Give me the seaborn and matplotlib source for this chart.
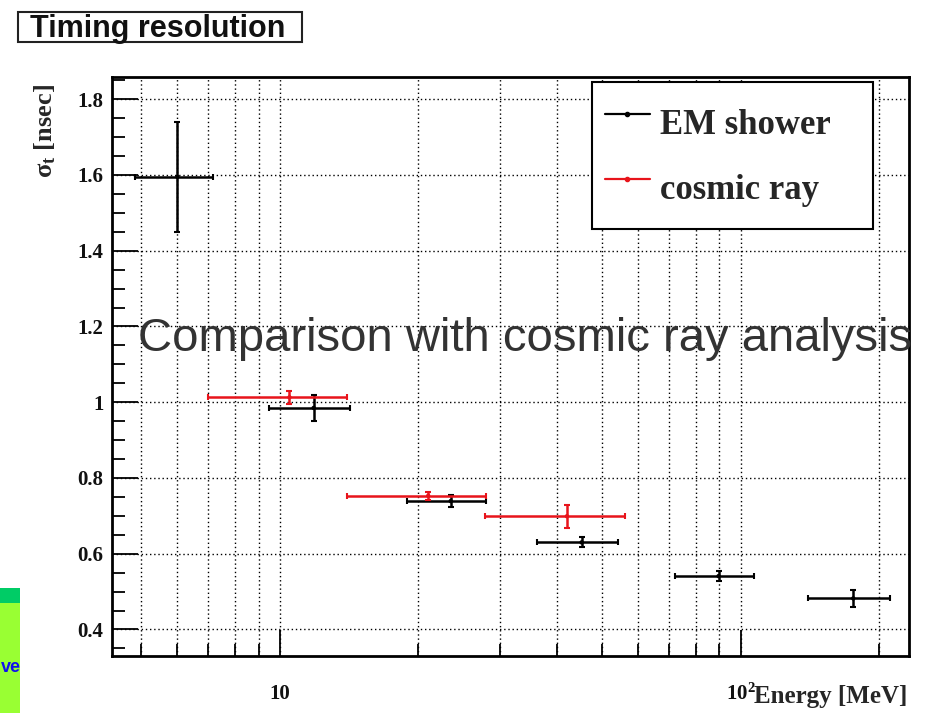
import numpy as np
import pandas as pd
import matplotlib
matplotlib.use("Agg")
import matplotlib.pyplot as plt
import seaborn as sns
from matplotlib.lines import Line2D
from matplotlib.patches import Rectangle
from matplotlib.ticker import FixedLocator, FixedFormatter, MultipleLocator, NullFormatter

# ---- data ----
em_energy = [6.0, 11.85, 23.5, 45.2, 89.6, 175.6]
em_energy_err = [1.15, 2.35, 4.6, 9.1, 17.5, 35.5]
em_sigma = [1.595, 0.985, 0.739, 0.630, 0.541, 0.482]
em_sigma_err = [0.145, 0.035, 0.016, 0.013, 0.014, 0.023]

cr_energy = [10.5, 21.0, 42.0]
cr_energy_err = [3.5, 7.0, 14.1]
cr_sigma = [1.013, 0.753, 0.699]
cr_sigma_err = [0.017, 0.010, 0.030]

series_names = ["EM shower", "cosmic ray"]
series_colors = ["#000000", "#e8141b"]
y_ticks = [0.4, 0.6, 0.8, 1.0, 1.2, 1.4, 1.6, 1.8]
y_tick_labels = ["0.4", "0.6", "0.8", "1", "1.2", "1.4", "1.6", "1.8"]
x_major = [10, 100]
x_major_labels = ["10", "$10^{2}$"]
x_minor = [5, 6, 7, 8, 9, 20, 30, 40, 50, 60, 70, 80, 90, 200]

df = pd.concat([
    pd.DataFrame({"energy": em_energy, "sigma": em_sigma, "series": series_names[0]}),
    pd.DataFrame({"energy": cr_energy, "sigma": cr_sigma, "series": series_names[1]}),
])

sns.set_theme(style="white")
plt.rcParams["font.family"] = ["Liberation Serif", "DejaVu Serif"]
plt.rcParams["mathtext.fontset"] = "custom"
plt.rcParams["mathtext.rm"] = "Liberation Serif:bold"
plt.rcParams["mathtext.it"] = "Liberation Serif:bold"
plt.rcParams["mathtext.bf"] = "Liberation Serif:bold"

fig = plt.figure(figsize=(9.28, 7.13), dpi=100)
fig.patch.set_facecolor("white")
W, H = 928.0, 713.0
ax = fig.add_axes([111.7 / W, 1 - 656 / H, (909 - 111.7) / W, (656 - 76.5) / H])

sns.scatterplot(data=df, x="energy", y="sigma", hue="series",
                palette=dict(zip(series_names, series_colors)),
                s=10, marker="o", edgecolor="none", legend=False, ax=ax, zorder=4)

ax.errorbar(em_energy, em_sigma, xerr=em_energy_err, yerr=em_sigma_err, fmt="none",
            ecolor=series_colors[0], elinewidth=1.8, capsize=2.5, capthick=1.5, zorder=3)
ax.errorbar(cr_energy, cr_sigma, xerr=cr_energy_err, yerr=cr_sigma_err, fmt="none",
            ecolor=series_colors[1], elinewidth=1.8, capsize=2.5, capthick=1.5, zorder=3)

ax.set_xscale("log")
ax.set_xlim(4.32, 232)
ax.set_ylim(0.33, 1.86)

ax.xaxis.set_major_locator(FixedLocator(x_major))
ax.xaxis.set_major_formatter(FixedFormatter(x_major_labels))
ax.xaxis.set_minor_locator(FixedLocator(x_minor))
ax.xaxis.set_minor_formatter(NullFormatter())
ax.yaxis.set_major_locator(FixedLocator(y_ticks))
ax.yaxis.set_major_formatter(FixedFormatter(y_tick_labels))
ax.yaxis.set_minor_locator(MultipleLocator(0.05))

ax.tick_params(axis="both", which="both", direction="in", color="black",
               bottom=True, left=True, top=False, right=False)
ax.tick_params(axis="x", which="major", length=19, width=1.3, pad=20, labelsize=15)
ax.tick_params(axis="x", which="minor", length=9, width=1.3)
ax.tick_params(axis="y", which="major", length=19, width=1.3, pad=6, labelsize=15)
ax.tick_params(axis="y", which="minor", length=9, width=1.3)
for lab in ax.get_xticklabels() + ax.get_yticklabels():
    lab.set_fontweight("bold")
    lab.set_color("#111111")

ax.grid(True, axis="y", which="major", linestyle=(0, (1, 2)), color="black", linewidth=1.0)
ax.grid(True, axis="x", which="both", linestyle=(0, (1, 2)), color="black", linewidth=1.0)
ax.set_axisbelow(True)
for sp in ax.spines.values():
    sp.set_color("black")
    sp.set_linewidth(2)
ax.set_xlabel("")
ax.set_ylabel("")

handles = [Line2D([], [], color=c, lw=1.6, marker="o", ms=3) for c in series_colors]
leg = ax.legend(handles, series_names, loc="upper left",
                bbox_to_anchor=(592 / W, 1 - 82 / H - 0.1, (873 - 592) / W, 0.1),
                bbox_transform=fig.transFigure, mode="expand",
                prop={"family": "Liberation Serif", "weight": "bold", "size": 25},
                frameon=True, fancybox=False, framealpha=1, edgecolor="black",
                handlelength=1.3, handleheight=2.15, handletextpad=0.29,
                labelspacing=0.22, borderpad=0.36, borderaxespad=0)
leg.get_frame().set_linewidth(1.5)
leg.set_zorder(10)

# y label, x label
fig.text(45 / W, 1 - 84 / H, "σ$_{t}$ [nsec]", rotation=90, ha="center", va="top",
         fontsize=19, fontweight="bold", family="Liberation Serif")
fig.text(907 / W, 1 - 697 / H, "Energy [MeV]", ha="right", va="center",
         fontsize=18, fontweight="bold", family="Liberation Serif")

# slide title box
fig.patches.append(Rectangle((18 / W, 1 - 42 / H), (302 - 18) / W, 30 / H,
                             transform=fig.transFigure, facecolor="white",
                             edgecolor="#222222", linewidth=1.5, zorder=5))
fig.text(30 / W, 1 - 29 / H, "Timing resolution", ha="left", va="center",
         fontsize=22, fontweight="bold", family="Liberation Sans", color="#111111",
         zorder=6)

# overlay text
fig.text(138 / W, 1 - 339 / H, "Comparison with cosmic ray analysis", ha="left", va="center",
         fontsize=34, family="Liberation Sans", color="#333333")

# fragment of neighbouring slide (bottom-left)
fig.patches.append(Rectangle((0, 0), 20 / W, (713 - 603) / H, transform=fig.transFigure,
                             facecolor="#99ff33", edgecolor="none", zorder=5))
fig.patches.append(Rectangle((0, (713 - 603) / H), 20 / W, 15 / H, transform=fig.transFigure,
                             facecolor="#00cc66", edgecolor="none", zorder=5))
fig.text(1 / W, 1 - 668 / H, "ve", ha="left", va="center", fontsize=13,
         fontweight="bold", family="Liberation Sans", color="#1010ee", zorder=6)

fig.savefig("out.png", dpi=100)
